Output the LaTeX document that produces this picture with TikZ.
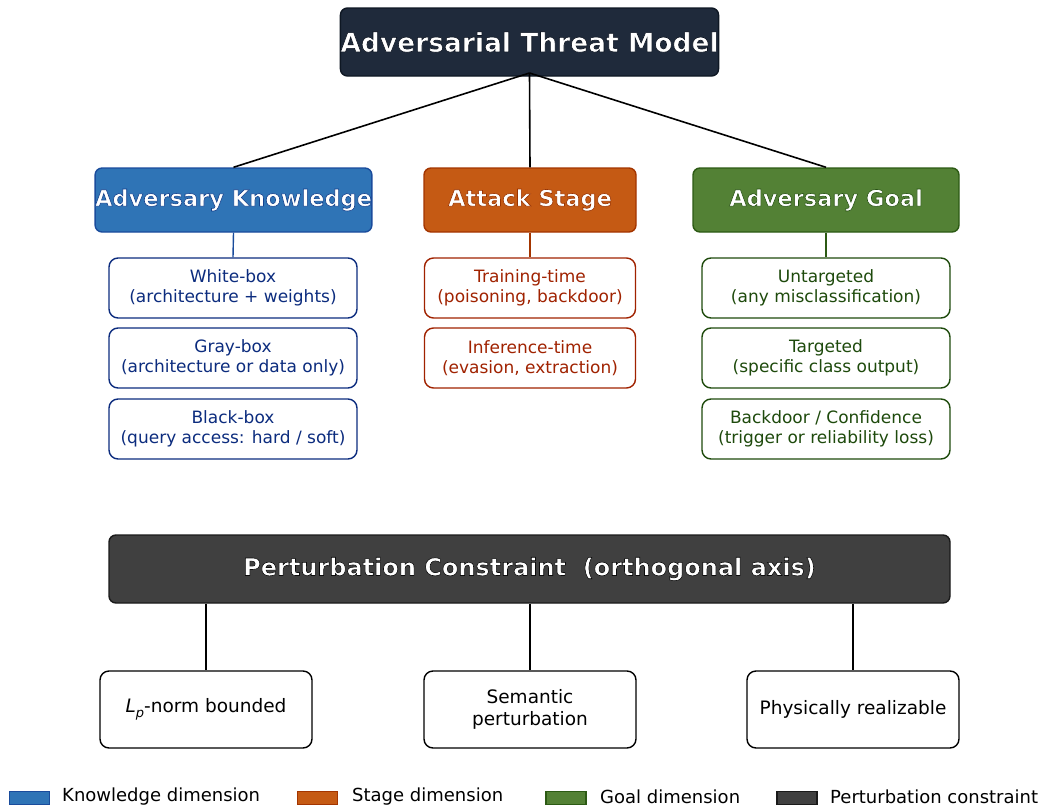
\documentclass[tikz,border=0pt]{standalone}
\usepackage{fontspec}
\setmainfont{DejaVu Sans}

\definecolor{navyfill}{HTML}{1F2A3B}
\definecolor{navyline}{HTML}{0E1723}
\definecolor{kfill}{HTML}{2F74B6}
\definecolor{kline}{HTML}{1A4C9C}
\definecolor{ktext}{HTML}{0C2C7E}
\definecolor{sfill}{HTML}{C55A14}
\definecolor{sline}{HTML}{A33500}
\definecolor{stext}{HTML}{A02200}
\definecolor{gfill}{HTML}{538135}
\definecolor{gline}{HTML}{2C5A14}
\definecolor{gtext}{HTML}{1E4A0C}
\definecolor{pfill}{HTML}{404040}
\definecolor{pline}{HTML}{1A1A1A}

% white title text with a dark stroked rim (#1 = rgb of the rim)
\newcommand{\rimtext}[2]{{\color{white}\special{pdf:code q 2 Tr 0.6 w #1 RG}#2\special{pdf:code Q}}}

\tikzset{
  headbox/.style={draw=#1, line width=1.4pt, rounded corners=7pt, anchor=center,
    inner sep=0pt, font=\fontsize{22.5}{26}\selectfont\bfseries},
  leafbox/.style={draw=#1, text=#1, fill=white, line width=1.4pt, rounded corners=9pt,
    anchor=center, inner sep=0pt, align=center, font=\fontsize{17}{20}\selectfont},
  keybox/.style={draw=#1, line width=1.4pt, minimum width=40pt, minimum height=13pt, inner sep=0pt},
  keytext/.style={anchor=west, inner sep=0pt, font=\fontsize{18}{20}\selectfont},
}

\begin{document}
\begin{tikzpicture}[x=1pt, y=-1pt]
\useasboundingbox (0,0) rectangle (1061,809);

% Root
\node[headbox=navyline, fill=navyfill, minimum width=377pt, minimum height=68pt,
  font=\fontsize{26.5}{28}\selectfont\bfseries] (root) at (529.5,42) {\rimtext{0.05 0.08 0.13}{Adversarial Threat Model}};

% Three dimensions
\node[headbox=kline, fill=kfill, minimum width=267pt, minimum height=64pt] (know) at (233.5,200) {\rimtext{0.08 0.25 0.55}{Adversary Knowledge}};
\node[headbox=sline, fill=sfill, minimum width=212pt, minimum height=64pt] (stage) at (530,200) {\rimtext{0.6 0.2 0.0}{Attack Stage}};
\node[headbox=gline, fill=gfill, minimum width=266pt, minimum height=64pt] (goal) at (826,200) {\rimtext{0.15 0.32 0.07}{Adversary Goal}};

\coordinate (hub) at (529.5,73);
\draw[line width=1.6pt] (hub) -- (know.north);
\draw[line width=1.6pt] (hub) -- (stage.north);
\draw[line width=1.6pt] (hub) -- (goal.north);

% Knowledge column
\node[leafbox=ktext, minimum width=248pt, minimum height=60pt] (k1) at (233,288) {White-box\\(architecture + weights)};
\node[leafbox=ktext, minimum width=248pt, minimum height=60pt] (k2) at (233,358) {Gray-box\\(architecture or data only)};
\node[leafbox=ktext, minimum width=248pt, minimum height=60pt] (k3) at (233,429) {Black-box\\(query access: hard / soft)};
\draw[kline, line width=1.4pt] (know.south) -- (k1.north);

% Stage column
\node[leafbox=stext, minimum width=211pt, minimum height=60pt] (s1) at (530,288) {Training-time\\(poisoning, backdoor)};
\node[leafbox=stext, minimum width=211pt, minimum height=60pt] (s2) at (530,358) {Inference-time\\(evasion, extraction)};
\draw[sline, line width=1.4pt] (stage.south) -- (s1.north);

% Goal column
\node[leafbox=gtext, minimum width=248pt, minimum height=60pt] (g1) at (826,288) {Untargeted\\(any misclassification)};
\node[leafbox=gtext, minimum width=248pt, minimum height=60pt] (g2) at (826,358) {Targeted\\(specific class output)};
\node[leafbox=gtext, minimum width=248pt, minimum height=60pt] (g3) at (826,429) {Backdoor / Confidence\\(trigger or reliability loss)};
\draw[gline, line width=1.4pt] (goal.south) -- (g1.north);

% Perturbation constraint
\node[headbox=pline, fill=pfill, minimum width=841pt, minimum height=68pt,
  font=\fontsize{24}{26}\selectfont\bfseries] (pert) at (529.5,569) {\rimtext{0.05 0.05 0.05}{Perturbation Constraint \ (orthogonal axis)}};
\tikzset{leafbox/.append style={font=\fontsize{18.5}{22}\selectfont}}
\node[leafbox=black, minimum width=212pt, minimum height=77pt] (p1) at (206,709.5) {{\itshape L}\raisebox{-0.3em}{\fontsize{13}{13}\selectfont\itshape p}-norm bounded};
\node[leafbox=black, minimum width=212pt, minimum height=77pt] (p2) at (530,709.5) {Semantic\\perturbation};
\node[leafbox=black, minimum width=212pt, minimum height=77pt] (p3) at (853,709.5) {Physically realizable};
\draw[line width=1.6pt] (pert.south -| p1) -- (p1.north);
\draw[line width=1.6pt] (pert.south -| p2) -- (p2.north);
\draw[line width=1.6pt] (pert.south -| p3) -- (p3.north);

% Legend
\node[keybox=kline, fill=kfill] (lk) at (29.5,798) {};
\node[keytext] (tk) at (62,797) {Knowledge dimension};
\node[keybox=sline, fill=sfill] (ls) at (317.5,798) {};
\node[keytext] (ts) at (352,797) {Stage dimension};
\node[keybox=gline, fill=gfill] (lg) at (566,798) {};
\node[keytext] (tg) at (600,797) {Goal dimension};
\node[keybox=pline, fill=pfill] (lp) at (797,798) {};
\node[keytext] (tp) at (830,797) {Perturbation constraint};
\end{tikzpicture}
\end{document}
